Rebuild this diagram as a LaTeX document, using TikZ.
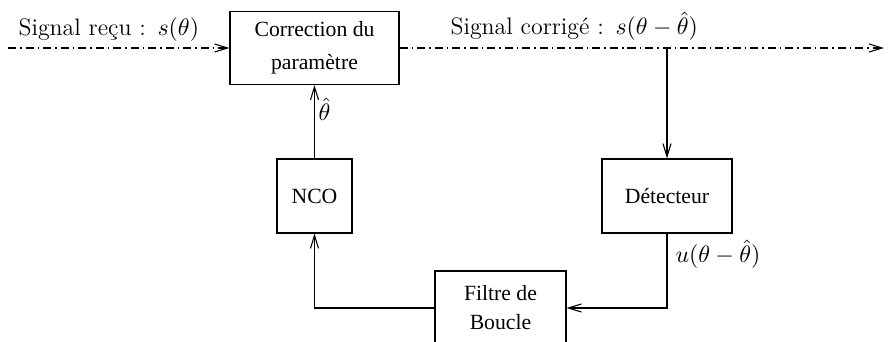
\documentclass[tikz,border=0pt]{standalone}
\usepackage{fontspec}
\newfontfamily\boxfont{Liberation Serif}
\usetikzlibrary{arrows.meta}
\begin{document}
\begin{tikzpicture}[x=0.4608pt,y=-0.4608pt,
  line width=0.5pt,
  blk/.style={draw, line width=0.5pt, inner sep=0pt, align=center,
    font=\fontsize{10pt}{13.4pt}\selectfont\boxfont},
  lbl/.style={inner sep=0pt, font=\fontsize{11pt}{13pt}\selectfont},
  arr/.style={-{Straight Barb[length=6pt,width=3.7pt]}},
  sig/.style={arr, dash pattern=on 3.7pt off 1.84pt on 0.7pt off 1.84pt}]
\useasboundingbox (0,0) rectangle (892,342);
% blocks
\node[blk, minimum width={169*0.4608pt}, minimum height={73*0.4608pt}] (corr) at (314.5,48) {Correction du\\[2pt]paramètre};
\node[blk, minimum width={75*0.4608pt}, minimum height={74*0.4608pt}] (nco) at (314.5,196) {NCO};
\node[blk, minimum width={130*0.4608pt}, minimum height={74*0.4608pt}] (det) at (667,196) {Détecteur};
\node[blk, minimum width={131*0.4608pt}, minimum height={74*0.4608pt}] (filt) at (500.5,308) {\raisebox{-1.5pt}{Filtre de}\\\raisebox{-1.5pt}{Boucle}};
% free ends
\coordinate (in) at (8,48);
\coordinate (out) at (884,48);
\coordinate (br) at (667,48);
% connectors
\draw[sig] (in) -- (corr.west);
\draw[sig] (corr.east) -- (out);
\draw[arr] (br) -- (det.north);
\draw[arr] (det.south) |- (filt.east);
\draw[arr] (filt.west) -| (nco.south);
\draw[arr] (nco.north) -- (corr.south);
% labels
\node[lbl, anchor=base west] (lin) at (18,36) {Signal reçu :\ \,$s(\theta)$};
\node[lbl, anchor=base west] (lout) at (450,35) {Signal corrigé :\ \,$s\bigl(\theta-\hat{\theta}\bigr)$};
\node[lbl, anchor=base west] (lu) at (675,263) {$u\bigl(\theta-\hat{\theta}\bigr)$};
\node[lbl, anchor=base west] (lth) at (318,121) {$\hat{\theta}$};
\end{tikzpicture}
\end{document}
